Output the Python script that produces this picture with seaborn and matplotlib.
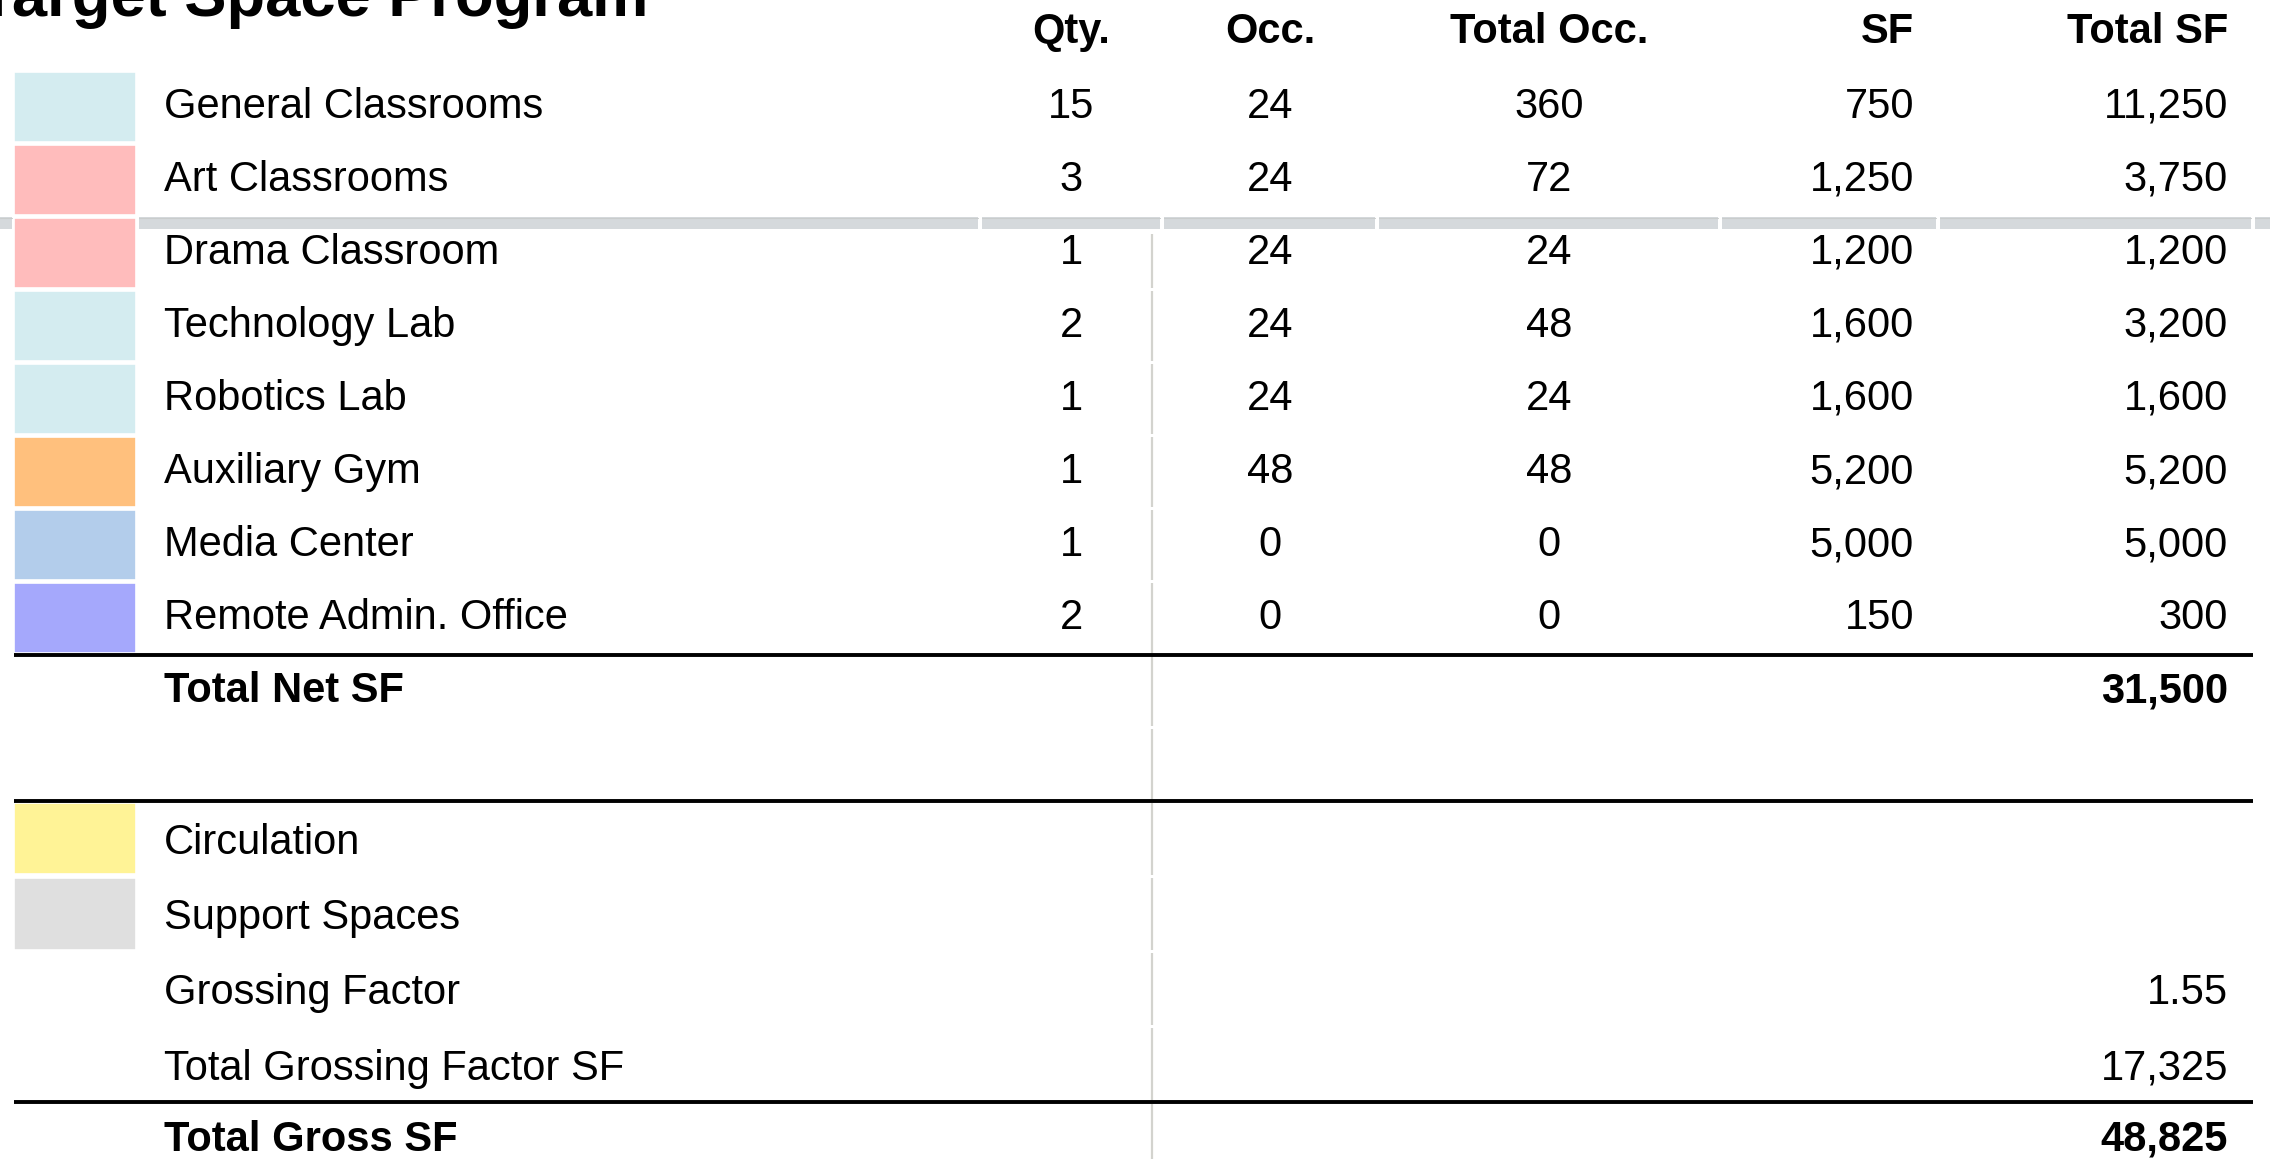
import matplotlib
matplotlib.use("Agg")
import matplotlib.pyplot as plt
import seaborn as sns
import pandas as pd

# ---------------- data ----------------
title = "Target Space Program"
headers = ["Qty.", "Occ.", "Total Occ.", "SF", "Total SF"]
space_names = ["General Classrooms", "Art Classrooms", "Drama Classroom", "Technology Lab",
               "Robotics Lab", "Auxiliary Gym", "Media Center", "Remote Admin. Office"]
qty = [15, 3, 1, 2, 1, 1, 1, 2]
occ = [24, 24, 24, 24, 24, 48, 0, 0]
total_occ = [360, 72, 24, 48, 24, 48, 0, 0]
sf = [750, 1250, 1200, 1600, 1600, 5200, 5000, 150]
total_sf = [11250, 3750, 1200, 3200, 1600, 5200, 5000, 300]
space_colors = ["#d4ecf0", "#ffbcbc", "#ffbcbc", "#d4ecf0", "#d4ecf0",
                "#ffc07d", "#b3cdeb", "#a5a8fc"]
total_net_label = "Total Net SF"
total_net_sf = 31500
support_names = ["Circulation", "Support Spaces"]
support_colors = ["#fff396", "#dfdfdf"]
grossing_labels = ["Grossing Factor", "Total Grossing Factor SF"]
grossing_values = ["1.55", "17,325"]
total_gross_label = "Total Gross SF"
total_gross_sf = 48825

# ---------------- style ----------------
sns.set_theme(style="white")
plt.rcParams["font.family"] = ["Liberation Sans", "DejaVu Sans"]
plt.rcParams["text.color"] = "black"

W, H = 2270, 1159
fig = plt.figure(figsize=(W / 100, H / 100), dpi=100)
ax = fig.add_axes([0, 0, 1, 1])
ax.set_xlim(0, W)
ax.set_ylim(H, 0)
ax.axis("off")
sns.despine(ax=ax, left=True, bottom=True)

FS = 30
top0 = 70.0
pitch1 = 73.1
pitch2 = 75.3
bound10 = top0 + pitch1 * 10


def row_top(i):
    if i <= 10:
        return top0 + pitch1 * i
    return bound10 + pitch2 * (i - 10)


def row_center(i):
    return (row_top(i) + row_top(i + 1)) / 2


def baseline(i):
    return row_center(i) + (15 if 10 <= i <= 13 else 11)

# columns
x_label = 164
x_qty, x_occ, x_tocc = 1071, 1270, 1549
x_sf, x_tsf = 1914, 2228
x_left_line, x_right_line = 14, 2253

# title (first letter runs off the canvas, as in the reference)
ax.text(-22, 16, title, fontsize=45.5, fontweight="bold", ha="left", va="baseline",
        color="black", clip_on=False)

# header
hy = 43
for txt, x, ha in zip(headers, [x_qty, x_occ, x_tocc, x_sf, x_tsf],
                      ["center", "center", "center", "right", "right"]):
    ax.text(x, hy, txt, fontsize=FS, fontweight="bold", ha=ha, va="baseline")

# grey band across the table (behind swatches)
band_edges = [0, 12, 139, 978, 982, 1160, 1164, 1375, 1379, 1718, 1722, 1936, 1940, 2251, 2255, W]
for a, b in zip(band_edges[0::2], band_edges[1::2]):
    ax.fill_between([a, b], 217, 229, color="#d5d9dc", lw=0, zorder=1)
    ax.plot([a, b], [217.5, 217.5], color="#c9cccc", lw=0.8, zorder=1)

# vertical light line with gaps at row boundaries
seg_bounds = [232] + [row_top(i) for i in range(3, 16)]
for a, b in zip(seg_bounds[:-1], seg_bounds[1:]):
    ax.plot([1152, 1152], [a + 1.5, min(b - 1.5, H)], color="#d3d3ce", lw=1.6,
            solid_capstyle="butt", zorder=1)

# swatches and space rows
df = pd.DataFrame({"name": space_names, "qty": qty, "occ": occ, "tocc": total_occ,
                   "sf": sf, "tsf": total_sf, "color": space_colors})
sw_left, sw_w = 14, 122
for i, row in df.iterrows():
    t = row_top(i)
    ax.bar(sw_left, pitch1 - 3, width=sw_w, bottom=t + 1.5, align="edge",
           color=row["color"], edgecolor="white", linewidth=1.2, zorder=2)
    b = baseline(i)
    ax.text(x_label, b, row["name"], fontsize=FS, ha="left", va="baseline", zorder=3)
    ax.text(x_qty, b, f"{row['qty']:,}", fontsize=FS, ha="center", va="baseline", zorder=3)
    ax.text(x_occ, b, f"{row['occ']:,}", fontsize=FS, ha="center", va="baseline", zorder=3)
    ax.text(x_tocc, b, f"{row['tocc']:,}", fontsize=FS, ha="center", va="baseline", zorder=3)
    ax.text(x_sf, b, f"{row['sf']:,}", fontsize=FS, ha="right", va="baseline", zorder=3)
    ax.text(x_tsf, b, f"{row['tsf']:,}", fontsize=FS, ha="right", va="baseline", zorder=3)

# total net
ax.plot([x_left_line, x_right_line], [row_top(8), row_top(8)], color="black", lw=2.8,
        solid_capstyle="butt", zorder=3)
ax.text(x_label, baseline(8), total_net_label, fontsize=FS, fontweight="bold",
        ha="left", va="baseline")
ax.text(x_tsf, baseline(8), f"{total_net_sf:,}", fontsize=FS, fontweight="bold",
        ha="right", va="baseline")

# support section
ax.plot([x_left_line, x_right_line], [row_top(10), row_top(10)], color="black", lw=2.8,
        solid_capstyle="butt", zorder=3)
for k, (name, col) in enumerate(zip(support_names, support_colors)):
    i = 10 + k
    t = row_top(i)
    ax.bar(sw_left, pitch2 - 4, width=sw_w, bottom=t + 2, align="edge",
           color=col, edgecolor="white", linewidth=1.2, zorder=2)
    ax.text(x_label, baseline(i), name, fontsize=FS, ha="left", va="baseline")

for k, (lab, val) in enumerate(zip(grossing_labels, grossing_values)):
    i = 12 + k
    ax.text(x_label, baseline(i), lab, fontsize=FS, ha="left", va="baseline")
    ax.text(x_tsf, baseline(i), val, fontsize=FS, ha="right", va="baseline")

ax.plot([x_left_line, x_right_line], [row_top(14), row_top(14)], color="black", lw=2.8,
        solid_capstyle="butt", zorder=3)
ax.text(x_label, baseline(14), total_gross_label, fontsize=FS, fontweight="bold",
        ha="left", va="baseline")
ax.text(x_tsf, baseline(14), f"{total_gross_sf:,}", fontsize=FS, fontweight="bold",
        ha="right", va="baseline")

fig.savefig("out.png", dpi=100)
